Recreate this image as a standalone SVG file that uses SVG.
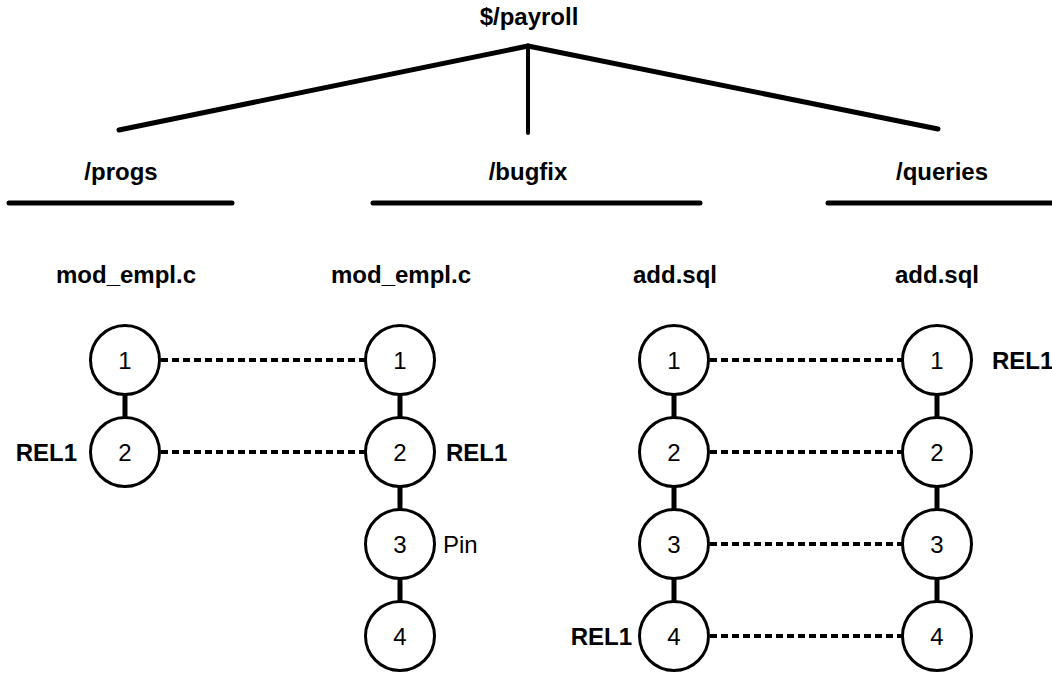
<svg xmlns="http://www.w3.org/2000/svg" width="1052" height="675" viewBox="0 0 1052 675">
  <style>
    text { font-family: "Liberation Sans", Arial, Helvetica, sans-serif; font-size: 24px; fill: #000; }
    .b { font-weight: bold; }
    .mid { text-anchor: middle; }
    .end { text-anchor: end; }
    .tree { stroke: #000; stroke-width: 5; stroke-linecap: round; fill: none; }
    .ver { fill: #fff; stroke: #000; stroke-width: 3; }
    .link { stroke: #000; stroke-width: 5; }
    .merge { stroke: #000; stroke-width: 4; stroke-dasharray: 7 4; }
  </style>

  <!-- directory tree -->
  <g id="tree">
    <text class="b mid" x="529" y="25">$/payroll</text>
    <line class="tree" x1="528" y1="46" x2="119" y2="130"/>
    <line class="tree" x1="528" y1="46" x2="938" y2="129"/>
    <line class="tree" x1="528" y1="46" x2="528" y2="133" style="stroke-width:4"/>
    <g id="dir-progs">
      <text class="b mid" x="121" y="180">/progs</text>
      <line class="tree" x1="9" y1="203" x2="232" y2="203"/>
    </g>
    <g id="dir-bugfix">
      <text class="b mid" x="528" y="180">/bugfix</text>
      <line class="tree" x1="373" y1="203" x2="700" y2="203"/>
    </g>
    <g id="dir-queries">
      <text class="b mid" x="942" y="180">/queries</text>
      <line class="tree" x1="828" y1="203" x2="1056" y2="203"/>
    </g>
  </g>

  <!-- file headers -->
  <g id="files">
    <text class="b mid" x="126" y="283">mod_empl.c</text>
    <text class="b mid" x="401" y="283">mod_empl.c</text>
    <text class="b mid" x="675" y="283">add.sql</text>
    <text class="b mid" x="937" y="283">add.sql</text>
  </g>

  <!-- connectors: version links and merges -->
  <g id="connectors">
    <line class="link" x1="125" y1="394" x2="125" y2="418"/>
    <line class="link" x1="400" y1="394" x2="400" y2="418"/>
    <line class="link" x1="400" y1="486" x2="400" y2="510"/>
    <line class="link" x1="400" y1="578" x2="400" y2="602"/>
    <line class="link" x1="674" y1="394" x2="674" y2="418"/>
    <line class="link" x1="674" y1="486" x2="674" y2="510"/>
    <line class="link" x1="674" y1="578" x2="674" y2="602"/>
    <line class="link" x1="937" y1="394" x2="937" y2="418"/>
    <line class="link" x1="937" y1="486" x2="937" y2="510"/>
    <line class="link" x1="937" y1="578" x2="937" y2="602"/>

    <line class="merge" x1="161" y1="360" x2="365" y2="360"/>
    <line class="merge" x1="161" y1="452" x2="365" y2="452"/>
    <line class="merge" x1="710" y1="360" x2="902" y2="360"/>
    <line class="merge" x1="710" y1="452" x2="902" y2="452"/>
    <line class="merge" x1="710" y1="544" x2="902" y2="544"/>
    <line class="merge" x1="710" y1="636" x2="902" y2="636"/>
  </g>

  <!-- progs/mod_empl.c versions -->
  <g id="progs-v1"><circle class="ver" cx="125" cy="360" r="34.5"/><text class="mid" x="125" y="368.5">1</text></g>
  <g id="progs-v2"><circle class="ver" cx="125" cy="452" r="34.5"/><text class="mid" x="125" y="460.5">2</text></g>

  <!-- bugfix/mod_empl.c versions -->
  <g id="bugfix-v1"><circle class="ver" cx="400" cy="360" r="34.5"/><text class="mid" x="400" y="368.5">1</text></g>
  <g id="bugfix-v2"><circle class="ver" cx="400" cy="452" r="34.5"/><text class="mid" x="400" y="460.5">2</text></g>
  <g id="bugfix-v3"><circle class="ver" cx="400" cy="544" r="34.5"/><text class="mid" x="400" y="552.5">3</text></g>
  <g id="bugfix-v4"><circle class="ver" cx="400" cy="636" r="34.5"/><text class="mid" x="400" y="644.5">4</text></g>

  <!-- bugfix/add.sql versions -->
  <g id="bugfix-sql-v1"><circle class="ver" cx="674" cy="360" r="34.5"/><text class="mid" x="674" y="368.5">1</text></g>
  <g id="bugfix-sql-v2"><circle class="ver" cx="674" cy="452" r="34.5"/><text class="mid" x="674" y="460.5">2</text></g>
  <g id="bugfix-sql-v3"><circle class="ver" cx="674" cy="544" r="34.5"/><text class="mid" x="674" y="552.5">3</text></g>
  <g id="bugfix-sql-v4"><circle class="ver" cx="674" cy="636" r="34.5"/><text class="mid" x="674" y="644.5">4</text></g>

  <!-- queries/add.sql versions -->
  <g id="queries-v1"><circle class="ver" cx="937" cy="360" r="34.5"/><text class="mid" x="937" y="368.5">1</text></g>
  <g id="queries-v2"><circle class="ver" cx="937" cy="452" r="34.5"/><text class="mid" x="937" y="460.5">2</text></g>
  <g id="queries-v3"><circle class="ver" cx="937" cy="544" r="34.5"/><text class="mid" x="937" y="552.5">3</text></g>
  <g id="queries-v4"><circle class="ver" cx="937" cy="636" r="34.5"/><text class="mid" x="937" y="644.5">4</text></g>

  <!-- labels and pins -->
  <g id="labels">
    <text class="b end" x="77" y="460.5">REL1</text>
    <text class="b" x="446" y="460.5">REL1</text>
    <text x="443" y="552.5">Pin</text>
    <text class="b end" x="632" y="644.5">REL1</text>
    <text class="b" x="992" y="368.5">REL1</text>
  </g>
</svg>
